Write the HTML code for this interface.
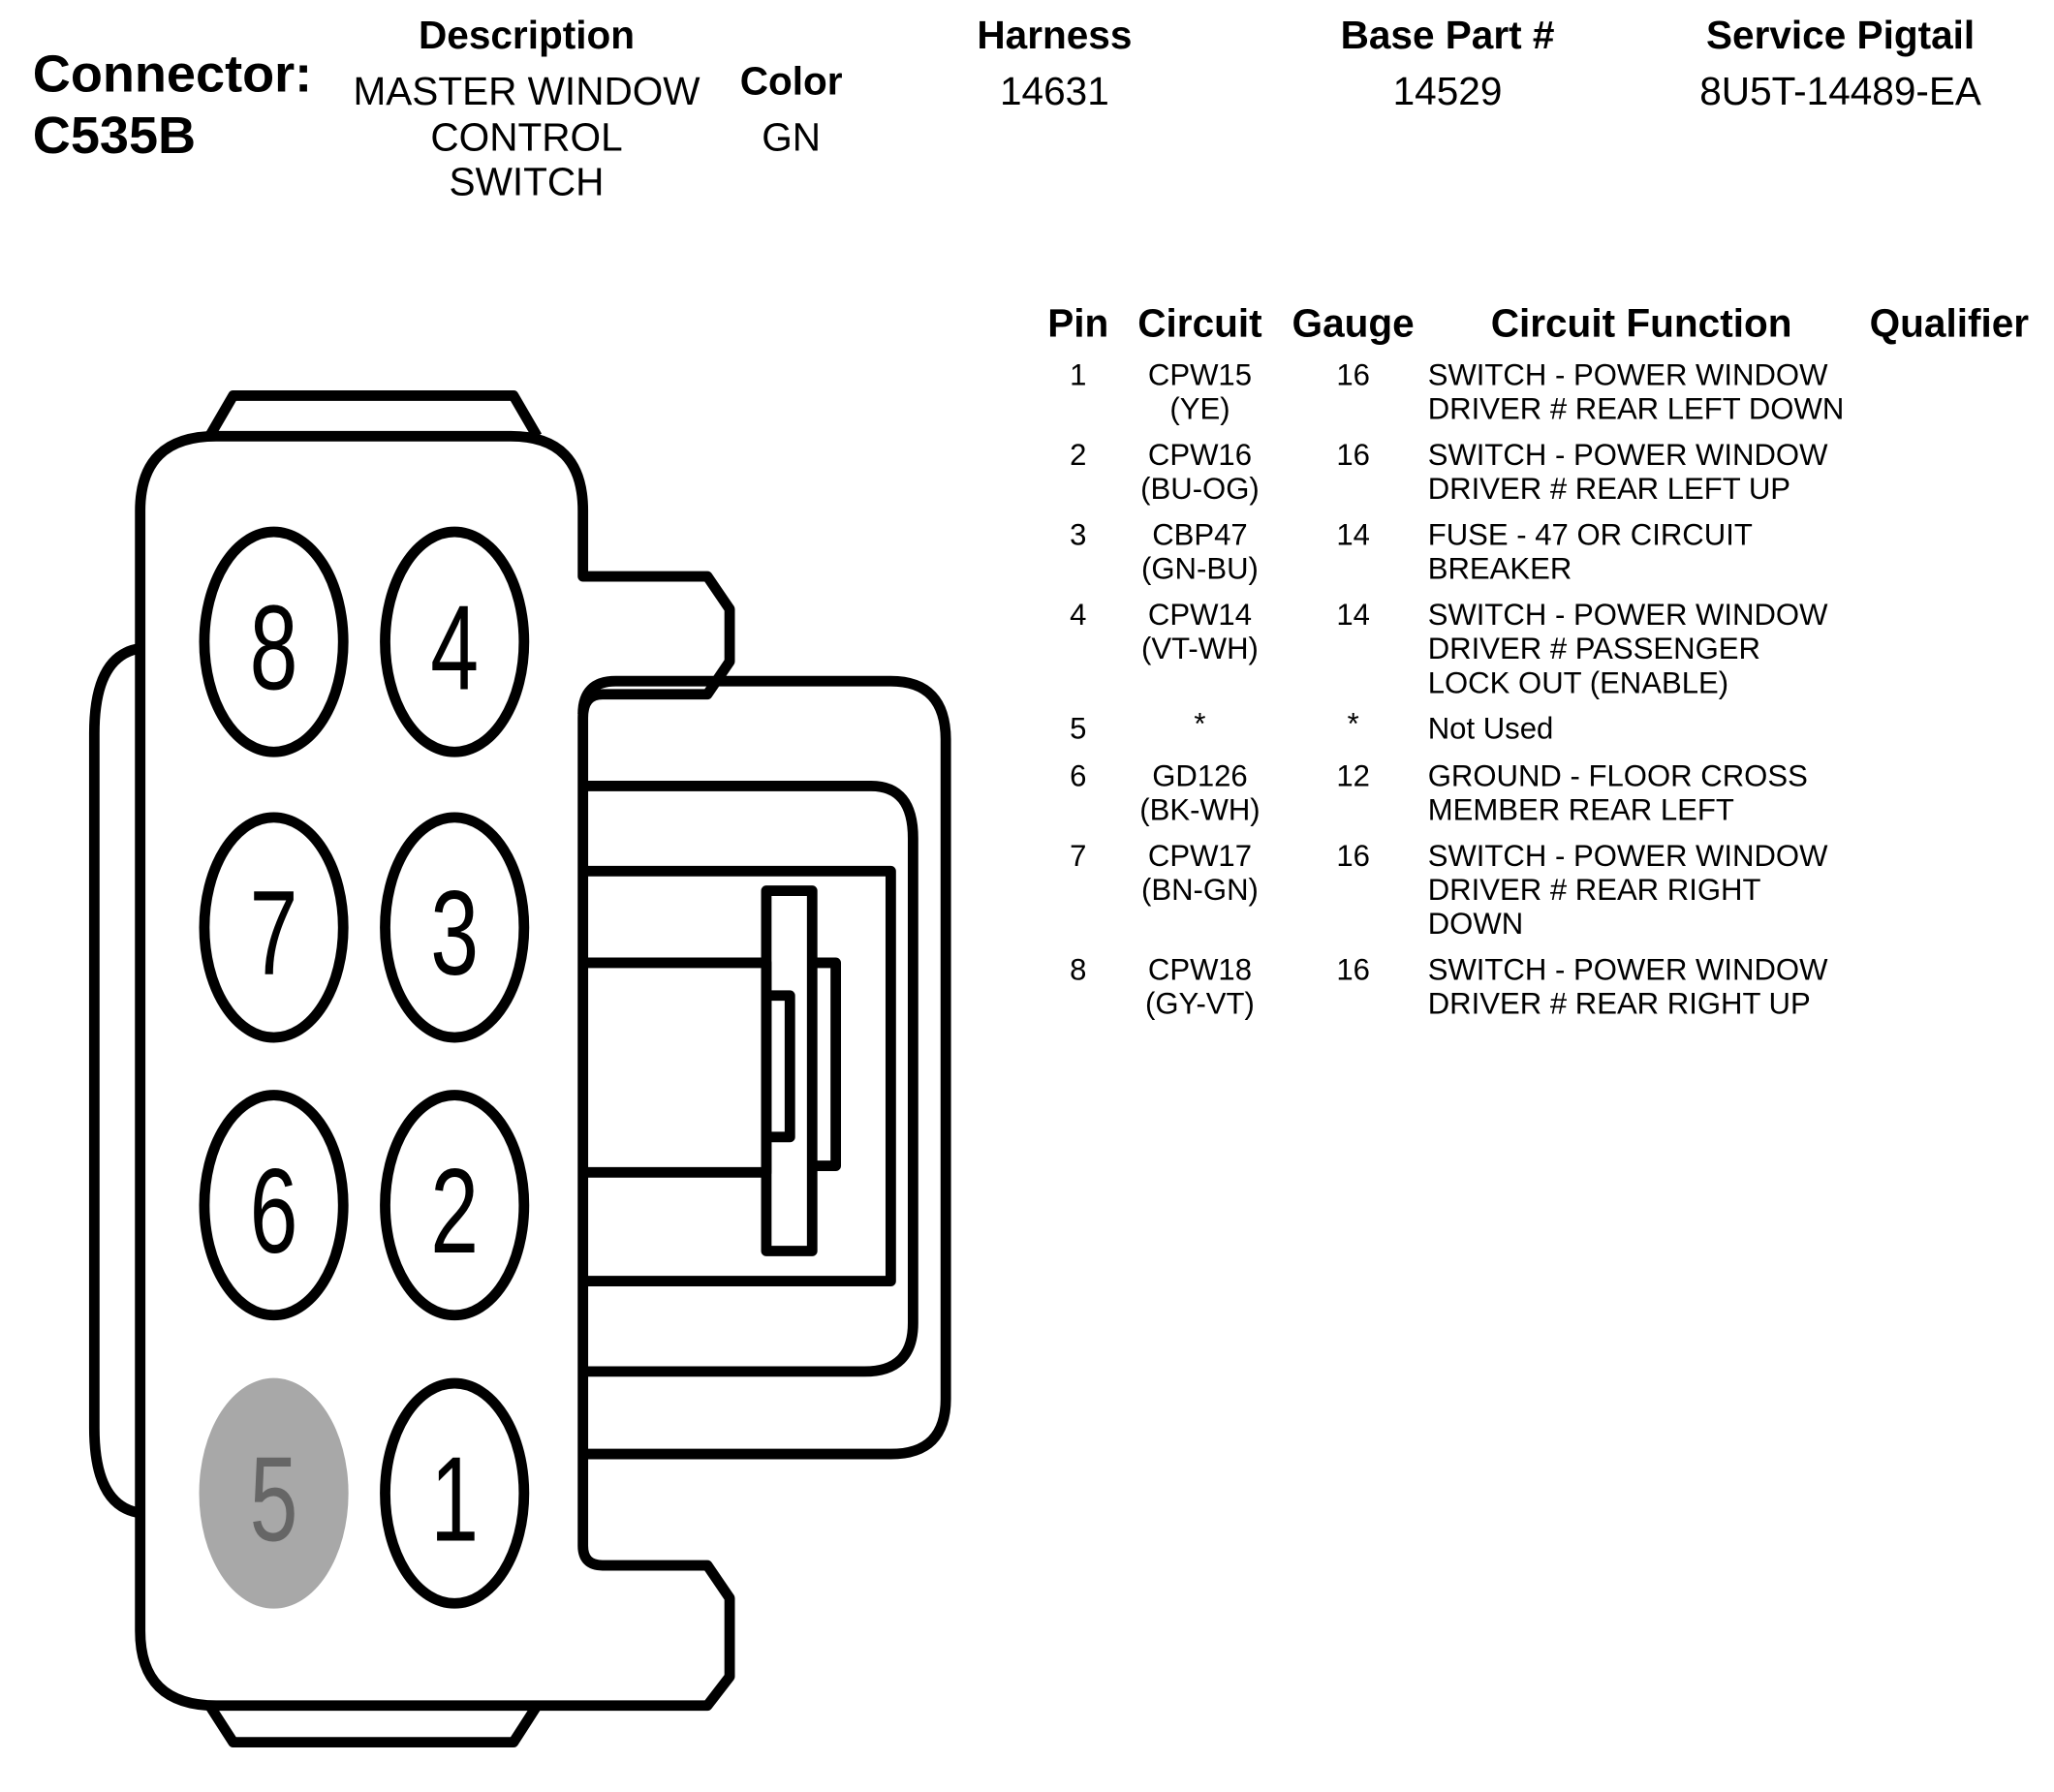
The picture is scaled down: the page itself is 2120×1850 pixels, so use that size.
<!DOCTYPE html>
<html><head><meta charset="utf-8"><style>
html,body{margin:0;padding:0;background:#fff;}
svg{display:block;}
text{font-family:"Liberation Sans",sans-serif;fill:#000;}
</style></head><body>
<svg width="2120" height="1850" viewBox="0 0 1568 1368" preserveAspectRatio="none" xmlns="http://www.w3.org/2000/svg">
<g font-size="40">
<text x="25" y="70" font-weight="bold">Connector:</text>
<text x="25" y="117" font-weight="bold">C535B</text>
</g>
<g font-size="30" text-anchor="middle" font-weight="bold">
<text x="402" y="37">Description</text>
<text x="604" y="72">Color</text>
<text x="805" y="37">Harness</text>
<text x="1105" y="37">Base Part #</text>
<text x="1405" y="37">Service Pigtail</text>
</g>
<g font-size="30" text-anchor="middle">
<text x="402" y="80">MASTER WINDOW</text>
<text x="402" y="115">CONTROL</text>
<text x="402" y="149">SWITCH</text>
<text x="604" y="115">GN</text>
<text x="805" y="80">14631</text>
<text x="1105" y="80">14529</text>
<text x="1405" y="80">8U5T-14489-EA</text>
</g>
<g font-size="30" font-weight="bold" text-anchor="middle">
<text x="823" y="257">Pin</text>
<text x="916" y="257">Circuit</text>
<text x="1033" y="257">Gauge</text>
<text x="1253" y="257">Circuit Function</text>
<text x="1488" y="257">Qualifier</text>
</g>
<g font-size="23" text-anchor="middle">
<text x="823" y="294">1</text><text x="916" y="294">CPW15</text><text x="916" y="320">(YE)</text><text x="1033" y="294">16</text>
<text x="823" y="355">2</text><text x="916" y="355">CPW16</text><text x="916" y="381">(BU-OG)</text><text x="1033" y="355">16</text>
<text x="823" y="416">3</text><text x="916" y="416">CBP47</text><text x="916" y="442">(GN-BU)</text><text x="1033" y="416">14</text>
<text x="823" y="477">4</text><text x="916" y="477">CPW14</text><text x="916" y="503">(VT-WH)</text><text x="1033" y="477">14</text>
<text x="823" y="564">5</text><text x="916" y="560">*</text><text x="1033" y="560">*</text>
<text x="823" y="600">6</text><text x="916" y="600">GD126</text><text x="916" y="626">(BK-WH)</text><text x="1033" y="600">12</text>
<text x="823" y="661">7</text><text x="916" y="661">CPW17</text><text x="916" y="687">(BN-GN)</text><text x="1033" y="661">16</text>
<text x="823" y="748">8</text><text x="916" y="748">CPW18</text><text x="916" y="774">(GY-VT)</text><text x="1033" y="748">16</text>
</g>
<g font-size="23">
<text x="1090" y="294">SWITCH - POWER WINDOW</text><text x="1090" y="320">DRIVER # REAR LEFT DOWN</text>
<text x="1090" y="355">SWITCH - POWER WINDOW</text><text x="1090" y="381">DRIVER # REAR LEFT UP</text>
<text x="1090" y="416">FUSE - 47 OR CIRCUIT</text><text x="1090" y="442">BREAKER</text>
<text x="1090" y="477">SWITCH - POWER WINDOW</text><text x="1090" y="503">DRIVER # PASSENGER</text><text x="1090" y="529">LOCK OUT (ENABLE)</text>
<text x="1090" y="564">Not Used</text>
<text x="1090" y="600">GROUND - FLOOR CROSS</text><text x="1090" y="626">MEMBER REAR LEFT</text>
<text x="1090" y="661">SWITCH - POWER WINDOW</text><text x="1090" y="687">DRIVER # REAR RIGHT</text><text x="1090" y="713">DOWN</text>
<text x="1090" y="748">SWITCH - POWER WINDOW</text><text x="1090" y="774">DRIVER # REAR RIGHT UP</text>
</g>
<g fill="none" stroke="#000" stroke-width="8" stroke-linejoin="round">
<path d="M160,333 L178,302 H392 L410,333"/>
<path d="M160,1302 L178,1330 H392 L410,1302"/>
<path d="M107,495 Q72,500 72,560 V1090 Q72,1150 107,1155"/>
<path d="M107,390 Q107,333 165,333 H390 Q445,333 445,390 V440 H540 L557,465 V505 L540,530 H460 Q445,530 445,548 V1180 Q445,1195 460,1195 H540 L557,1220 V1280 L540,1302 H165 Q107,1302 107,1245 Z"/>
<path d="M445,545 Q445,520 470,520 H680 Q722,520 722,565 V1068 Q722,1110 680,1110 H445"/>
<path d="M445,600 H665 Q697,600 697,640 V1010 Q697,1047 660,1047 H445"/>
<path d="M445,665 H680 V978 H445"/>
<path d="M445,735 H585 V895 H445"/>
<rect x="585" y="680" width="35" height="275"/>
<path d="M620,735 H638 V890 H620"/>
<path d="M585,760 H603 V868 H585"/>
</g>
<g stroke="#000" stroke-width="8" fill="#fff">
<ellipse cx="209" cy="490" rx="53" ry="84"/>
<ellipse cx="347" cy="490" rx="53" ry="84"/>
<ellipse cx="209" cy="708" rx="53" ry="84"/>
<ellipse cx="347" cy="708" rx="53" ry="84"/>
<ellipse cx="209" cy="920" rx="53" ry="84"/>
<ellipse cx="347" cy="920" rx="53" ry="84"/>
<ellipse cx="347" cy="1140" rx="53" ry="84"/>
</g>
<ellipse cx="209" cy="1140" rx="57" ry="88" fill="#a8a8a8"/>
<g font-size="92" text-anchor="middle">
<text transform="translate(209,526) scale(0.72,1)">8</text>
<text transform="translate(347,526) scale(0.72,1)">4</text>
<text transform="translate(209,744) scale(0.72,1)">7</text>
<text transform="translate(347,744) scale(0.72,1)">3</text>
<text transform="translate(209,956) scale(0.72,1)">6</text>
<text transform="translate(347,956) scale(0.72,1)">2</text>
<text transform="translate(209,1176) scale(0.72,1)" style="fill:#666">5</text>
<text transform="translate(347,1176) scale(0.72,1)">1</text>
</g>
</svg>
</body></html>
